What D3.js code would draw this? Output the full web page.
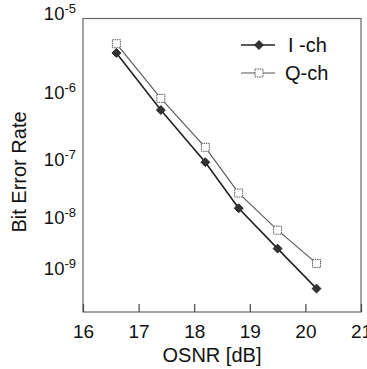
<!DOCTYPE html>
<html><head><meta charset="utf-8">
<script src="https://cdn.jsdelivr.net/npm/d3@7"></script>
<style>
html,body{margin:0;padding:0;background:#fff;}
svg{display:block;font-family:"Liberation Sans",Arial,sans-serif;}
</style></head>
<body>
<svg id="chart" width="367" height="369"></svg>
<script>
// ---- data ----
const osnr = [16.6, 17.4, 18.2, 18.8, 19.5, 20.2];
const berI = [3.3e-6, 5.6e-7, 8.9e-8, 1.45e-8, 2.5e-9, 3.7e-10];
const berQ = [4.3e-6, 8.2e-7, 1.54e-7, 2.7e-8, 5.7e-9, 1.26e-9];
const xTicks = [16, 17, 18, 19, 20, 21];
const yTickExps = [5, 6, 7, 8, 9];
const seriesNames = ["I -ch", "Q-ch"];

// ---- layout ----
const svg = d3.select("#chart");
const mLeft = 83, mRight = 361, mTop = 18.5, mBottom = 312;

const x = d3.scaleLinear().domain([16, 21]).range([mLeft, mRight]);
// BER axis: log of the exponent magnitude (-log10 BER)
const y = d3.scaleLog().domain([5, 10]).range([13, 314]);
const yb = b => y(-Math.log10(b));

// frame
svg.append("rect").attr("x", mLeft).attr("y", mTop)
  .attr("width", mRight - mLeft).attr("height", mBottom - mTop)
  .attr("fill", "none").attr("stroke", "#666").attr("stroke-width", 1.2);

// x axis ticks (inward) and labels
const xAxis = d3.axisBottom(x).tickValues(xTicks).tickSize(-8).tickSizeOuter(0).tickPadding(13)
  .tickFormat(d3.format("d"));
const gx = svg.append("g").attr("transform", `translate(0,${mBottom})`).call(xAxis);
gx.select(".domain").remove();
gx.selectAll(".tick line").attr("stroke", "#444").attr("stroke-width", 1.2);
gx.selectAll(".tick text").attr("font-size", 19).attr("fill", "#111")
  .attr("font-family", "Liberation Sans, Arial, sans-serif");

// y labels 10^-n
const yl = svg.append("g");
yTickExps.forEach(e => {
  const t = yl.append("text").attr("x", 76).attr("y", y(e) + 7)
    .attr("text-anchor", "end").attr("fill", "#111").attr("font-size", 18.5);
  t.append("tspan").text("10");
  t.append("tspan").attr("dy", -7).attr("font-size", 13).text("-" + e);
});

// axis titles
svg.append("text").attr("x", 212).attr("y", 362).attr("text-anchor", "middle")
  .attr("font-size", 20).attr("fill", "#111").text("OSNR [dB]");
svg.append("text").attr("transform", "translate(26,172) rotate(-90)")
  .attr("text-anchor", "middle").attr("font-size", 20).attr("fill", "#111").text("Bit Error Rate");

// lines
const dI = osnr.map((v, i) => [v, berI[i]]);
const dQ = osnr.map((v, i) => [v, berQ[i]]);
const line = d3.line().x(d => x(d[0])).y(d => yb(d[1]));

svg.append("path").datum(dQ).attr("d", line).attr("fill", "none")
  .attr("stroke", "#555").attr("stroke-width", 1.1);
svg.append("path").datum(dI).attr("d", line).attr("fill", "none")
  .attr("stroke", "#222").attr("stroke-width", 1.6);

const diamond = d3.symbol().type(d3.symbolDiamond2).size(50);
const square = d3.symbol().type(d3.symbolSquare).size(64);

svg.append("g").selectAll("path").data(dQ).join("path")
  .attr("d", square).attr("transform", d => `translate(${x(d[0])},${yb(d[1])})`)
  .attr("fill", "#fff").attr("stroke", "#555").attr("stroke-width", 1)
  .attr("stroke-dasharray", "1.5,0.8");
svg.append("g").selectAll("path").data(dI).join("path")
  .attr("d", diamond).attr("transform", d => `translate(${x(d[0])},${yb(d[1])})`)
  .attr("fill", "#333").attr("stroke", "#222").attr("stroke-width", 1);

// legend
const lg = svg.append("g");
lg.append("line").attr("x1", 241).attr("x2", 275).attr("y1", 45).attr("y2", 45)
  .attr("stroke", "#222").attr("stroke-width", 1.6);
lg.append("path").attr("d", diamond).attr("transform", "translate(259,45)")
  .attr("fill", "#333").attr("stroke", "#222");
lg.append("text").attr("x", 288).attr("y", 52).attr("font-size", 20).attr("fill", "#111").text(seriesNames[0]);
lg.append("line").attr("x1", 241).attr("x2", 275).attr("y1", 73).attr("y2", 73)
  .attr("stroke", "#555").attr("stroke-width", 1.1);
lg.append("path").attr("d", square).attr("transform", "translate(259,73)")
  .attr("fill", "#fff").attr("stroke", "#555").attr("stroke-dasharray", "1.5,0.8");
lg.append("text").attr("x", 285).attr("y", 80).attr("font-size", 20).attr("fill", "#111").text(seriesNames[1]);
</script>
</body></html>
